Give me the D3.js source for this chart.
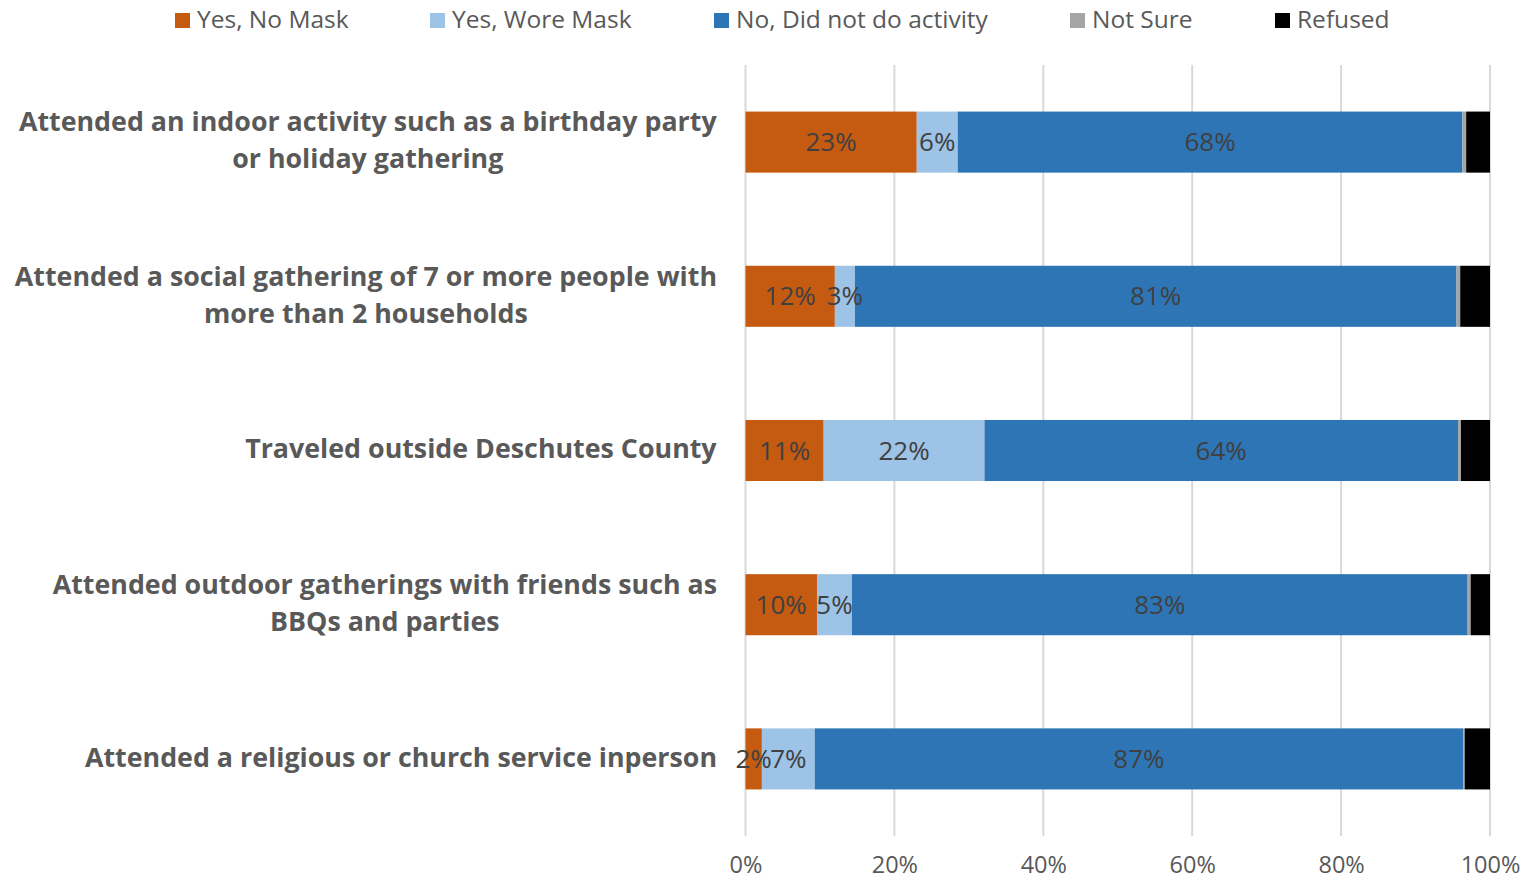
<!DOCTYPE html>
<html>
<head>
<meta charset="utf-8">
<script src="https://cdn.jsdelivr.net/npm/d3@7"></script>
<style>
  html, body { margin: 0; padding: 0; background: #fff; }
  svg { display: block; font-family: "Open Sans", "Noto Sans", sans-serif; }
</style>
</head>
<body>
<svg id="chart" width="1524" height="882"></svg>
<script>
// Survey activities (each may wrap onto two lines)
const categories = [
  ["Attended an indoor activity such as a birthday party", "or holiday gathering"],
  ["Attended a social gathering of 7 or more people with", "more than 2 households"],
  ["Traveled outside Deschutes County"],
  ["Attended outdoor gatherings with friends such as", "BBQs and parties"],
  ["Attended a religious or church service inperson"]
];
const seriesNames = ["Yes, No Mask", "Yes, Wore Mask", "No, Did not do activity", "Not Sure", "Refused"];
const seriesColors = ["#C55A11", "#9DC3E6", "#2E75B6", "#A5A5A5", "#000000"];

// Percent of respondents, one array per series (same order as categories)
const yesNoMask   = [23.0, 12.0, 10.5, 9.6, 2.2];
const yesWoreMask = [5.5, 2.7, 21.6, 4.7, 7.1];
const noActivity  = [67.8, 80.8, 63.6, 82.7, 87.1];
const notSure     = [0.5, 0.5, 0.4, 0.4, 0.2];
const refused     = [3.2, 4.0, 3.9, 2.6, 3.4];
const labeledSeries = [0, 1, 2];

const tickValues = [0, 20, 40, 60, 80, 100];

const seriesValues = [yesNoMask, yesWoreMask, noActivity, notSure, refused];
const rows = categories.map((c, i) => {
  const o = { idx: i };
  seriesNames.forEach((s, j) => { o[s] = seriesValues[j][i]; });
  return o;
});

const svg = d3.select("#chart");
const margin = { left: 745.5, right: 34, top: 65, bottom: 46 };
const W = 1524, H = 882;

const x = d3.scaleLinear().domain([0, 100]).range([margin.left, W - margin.right]);
const y = d3.scaleBand().domain(d3.range(categories.length))
  .range([margin.top, H - margin.bottom]).paddingInner(0.604).paddingOuter(0.302);

// Gridlines
svg.append("g").selectAll("line").data(tickValues).join("line")
  .attr("x1", d => x(d)).attr("x2", d => x(d))
  .attr("y1", margin.top).attr("y2", H - margin.bottom)
  .attr("stroke", "#D9D9D9").attr("stroke-width", 2);

// X axis labels
const xAxis = d3.axisBottom(x).tickValues(tickValues).tickFormat(d => d + "%").tickSize(0).tickPadding(0);
const ax = svg.append("g").attr("transform", `translate(0, ${H - 17})`).call(xAxis);
ax.select(".domain").remove();
ax.selectAll("text").attr("fill", "#595959").style("font-size", "23.5px")
  .style("font-family", "'Open Sans', sans-serif").attr("dy", "0.35em").attr("y", 0);

// Stacked bars
const stack = d3.stack().keys(seriesNames);
const stacked = stack(rows);

const layers = svg.append("g").selectAll("g").data(stacked).join("g")
  .attr("fill", (d, i) => seriesColors[i]);

layers.selectAll("rect").data(d => d).join("rect")
  .attr("x", d => x(d[0]))
  .attr("width", d => Math.max(0, x(d[1]) - x(d[0])))
  .attr("y", d => y(d.data.idx))
  .attr("height", y.bandwidth());

// Value labels
const labelG = svg.append("g");
labeledSeries.forEach(si => {
  labelG.selectAll(null).data(stacked[si]).join("text")
    .attr("x", d => (x(d[0]) + x(d[1])) / 2)
    .attr("y", d => y(d.data.idx) + y.bandwidth() / 2)
    .attr("dy", "0.35em")
    .attr("text-anchor", "middle")
    .attr("fill", "#404040")
    .style("font-size", "26px")
    .text((d, i) => Math.round(seriesValues[si][i]) + "%");
});

// Category labels
const catG = svg.append("g");
categories.forEach((lines, i) => {
  const cy = y(i) + y.bandwidth() / 2 - 1.5;
  const lh = 37;
  const t = catG.append("text")
    .attr("text-anchor", "middle")
    .attr("fill", "#595959")
    .style("font-size", "26.8px")
    .style("font-weight", "700");
  lines.forEach((ln, k) => {
    t.append("tspan")
      .attr("x", 0)
      .attr("y", cy - (lines.length - 1) * lh / 2 + k * lh)
      .attr("dy", "0.35em")
      .text(ln);
  });
  // right-align the block, center lines within it
  const bb = t.node().getBBox();
  t.attr("transform", `translate(${717 - bb.width / 2}, 0)`);
});

// Legend
const legendX = [175, 430, 714, 1070, 1275];
const lg = svg.append("g");
seriesNames.forEach((s, i) => {
  lg.append("rect").attr("x", legendX[i]).attr("y", 13).attr("width", 15).attr("height", 15)
    .attr("fill", seriesColors[i]);
  lg.append("text").attr("x", legendX[i] + 22).attr("y", 19.5).attr("dy", "0.35em")
    .attr("fill", "#595959").style("font-size", "24.5px").text(s);
});
</script>
</body>
</html>
